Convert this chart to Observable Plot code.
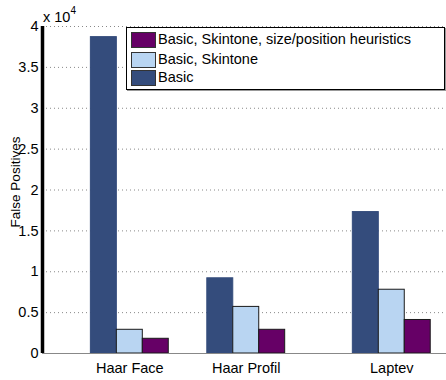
<!DOCTYPE html>
<html><head><meta charset="utf-8">
<script src="https://cdn.jsdelivr.net/npm/d3@7"></script>
<script src="https://cdn.jsdelivr.net/npm/@observablehq/plot@0.6"></script>
<style>
body{margin:0;background:#fff;font-family:"Liberation Sans",Arial,Helvetica,sans-serif}
#wrap{position:relative;width:446px;height:380px;overflow:hidden}
#wrap svg{position:absolute;left:0;top:0}
.ovl{position:absolute;color:#000;white-space:nowrap}
#legend{position:absolute;left:126px;top:27px;width:317px;height:61px;border:1px solid #000;background:#fff;box-shadow:1px 1px 0 #999}
.row{position:absolute;left:4px;height:16px;font-size:14.5px;line-height:16px;white-space:nowrap;width:310px}
.sw{position:absolute;left:0;top:0;width:23px;height:14px;border:1px solid #333}
.lt{position:absolute;left:27px;top:-1px;white-space:nowrap}
</style></head><body>
<div id="wrap"></div>
<script>
const categories = ["Haar Face", "Haar Profil", "Laptev"];
const groupX = [1, 2, 3.25];
const seriesNames = ["Basic", "Basic, Skintone", "Basic, Skintone, size/position heuristics"];
const basic = [38700, 9200, 17300];
const skintone = [2900, 5700, 7800];
const heuristics = [1800, 2900, 4100];
const seriesColors = ["#344c7c", "#b9d5f2", "#660066"];
const yTicks = [0, 5000, 10000, 15000, 20000, 25000, 30000, 35000, 40000];

const values = [basic, skintone, heuristics];
const barW = 0.223;
const data = [];
categories.forEach((c, i) => {
  values.forEach((vals, s) => {
    const x1 = groupX[i] + (s - 1.5) * barW;
    data.push({cat: c, series: seriesNames[s], s, x1, x2: x1 + barW, v: vals[i]});
  });
});

const xDomain = [0.25, 3.72];
const yDomain = [0, 40000];
const chart = Plot.plot({
  width: 446, height: 380,
  marginLeft: 42, marginRight: 0, marginTop: 26, marginBottom: 27,
  style: {fontFamily: '"Liberation Sans", Arial, sans-serif', fontSize: "14.5px", background: "#fff", color: "#000"},
  x: {type: "linear", domain: xDomain, label: null},
  y: {domain: yDomain, label: null},
  color: {domain: seriesNames, range: seriesColors},
  marks: [
    Plot.gridY(yTicks.filter(d => d > 0), {stroke: "#888", strokeOpacity: 1, strokeDasharray: "1,3"}),
    Plot.rectY(data, {x1: "x1", x2: "x2", y1: 0, y2: "v", fill: "series", stroke: d => d.s === 0 ? seriesColors[0] : "#1a1a1a", strokeWidth: 1}),
    Plot.ruleY([0], {stroke: "#888", strokeWidth: 1.2}),
    Plot.axisX({ticks: groupX, tickFormat: d => categories[groupX.indexOf(d)], tickSize: 0, tickPadding: 9, fontSize: "14.5px"}),
    Plot.axisY({ticks: yTicks, tickFormat: d => d / 1e4, tickSize: 0, tickPadding: 4, fontSize: "14.5px"}),
    Plot.ruleX([xDomain[0]], {stroke: "black", strokeWidth: 3.5})
  ]
});
const wrap = document.getElementById("wrap");
wrap.appendChild(chart);

const ex = document.createElement("div");
ex.className = "ovl";
ex.style.cssText = "left:43px;top:7px;font-size:14.5px";
ex.innerHTML = "x 10<sup style='font-size:10px;position:relative;top:-2px'>4</sup>";
wrap.appendChild(ex);

const yl = document.createElement("div");
yl.className = "ovl";
yl.textContent = "False Positives";
yl.style.cssText = "left:15px;top:182px;font-size:13.5px;transform:translate(-50%,-50%) rotate(-90deg)";
wrap.appendChild(yl);

const lg = document.createElement("div");
lg.id = "legend";
const order = [2, 1, 0];
const tops = [4, 24, 42];
order.forEach((s, k) => {
  const r = document.createElement("div");
  r.className = "row";
  r.style.top = tops[k] + "px";
  r.innerHTML = `<div class="sw" style="background:${seriesColors[s]}"></div><div class="lt">${seriesNames[s]}</div>`;
  lg.appendChild(r);
});
wrap.appendChild(lg);
</script>
</body></html>
